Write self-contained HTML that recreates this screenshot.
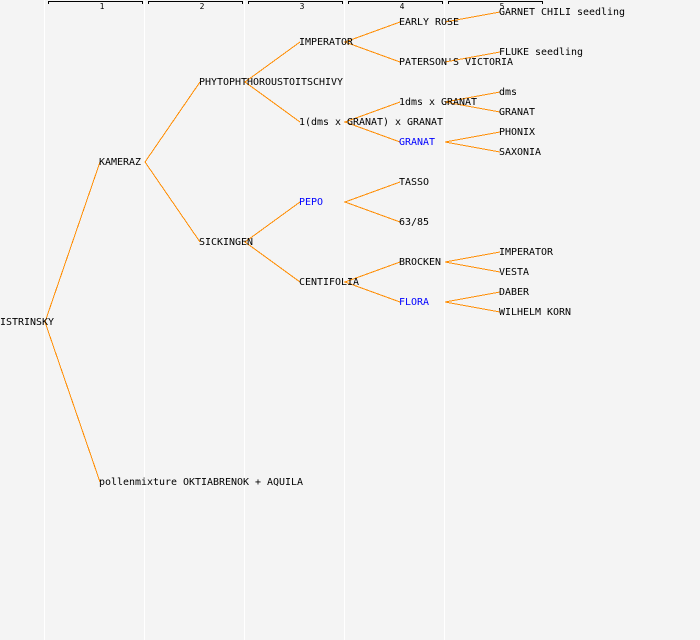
<!DOCTYPE html>
<html><head><meta charset="utf-8">
<style>
html,body{margin:0;padding:0;background:#f4f4f4}
svg{display:block}
text{font-family:"DejaVu Sans Mono","Liberation Mono",monospace;font-size:9.97px;fill:#000}
.b{fill:#0000ff}
.n{font-size:8px;text-anchor:middle}
</style></head><body>
<svg width="700" height="640" viewBox="0 0 700 640" xmlns="http://www.w3.org/2000/svg">
<rect width="700" height="640" fill="#f4f4f4"/>
<g fill="#fff" shape-rendering="crispEdges">
<rect x="44" y="0" width="1" height="640"/><rect x="144" y="0" width="1" height="640"/><rect x="244" y="0" width="1" height="640"/><rect x="344" y="0" width="1" height="640"/><rect x="444" y="0" width="1" height="640"/>
</g>
<g fill="none" stroke="#000" shape-rendering="crispEdges">
<path d="M48.5 4V1.5H142.5V4"/><path d="M148.5 4V1.5H242.5V4"/><path d="M248.5 4V1.5H342.5V4"/><path d="M348.5 4V1.5H442.5V4"/><path d="M448.5 4V1.5H542.5V4"/>
</g>
<text class="n" x="102" y="9">1</text><text class="n" x="202" y="9">2</text><text class="n" x="302" y="9">3</text><text class="n" x="402" y="9">4</text><text class="n" x="502" y="9">5</text>
<g stroke="#ff8c00" fill="none" shape-rendering="crispEdges">
<path d="M100 162L45 322L100 482"/>
<path d="M200 82L145 162L200 242"/>
<path d="M300 42L245 82L300 122"/>
<path d="M300 202L245 242L300 282"/>
<path d="M400 22L345 42L400 62"/>
<path d="M400 102L345 122L400 142"/>
<path d="M400 182L345 202L400 222"/>
<path d="M400 262L345 282L400 302"/>
<path d="M500 12L445 22"/>
<path d="M500 52L445 62"/>
<path d="M500 92L445 102L500 112"/>
<path d="M500 132L445 142L500 152"/>
<path d="M500 252L445 262L500 272"/>
<path d="M500 292L445 302L500 312"/>
</g>
<text x="0" y="325">ISTRINSKY</text>
<text x="99" y="165">KAMERAZ</text>
<text x="99" y="485">pollenmixture OKTIABRENOK + AQUILA</text>
<text x="199" y="85">PHYTOPHTHOROUSTOITSCHIVY</text>
<text x="199" y="245">SICKINGEN</text>
<text x="299" y="45">IMPERATOR</text>
<text x="299" y="125">1(dms x GRANAT) x GRANAT</text>
<text x="299" y="205" class="b">PEPO</text>
<text x="299" y="285">CENTIFOLIA</text>
<text x="399" y="25">EARLY ROSE</text>
<text x="399" y="65">PATERSON'S VICTORIA</text>
<text x="399" y="105">1dms x GRANAT</text>
<text x="399" y="145" class="b">GRANAT</text>
<text x="399" y="185">TASSO</text>
<text x="399" y="225">63/85</text>
<text x="399" y="265">BROCKEN</text>
<text x="399" y="305" class="b">FLORA</text>
<text x="499" y="15">GARNET CHILI seedling</text>
<text x="499" y="55">FLUKE seedling</text>
<text x="499" y="95">dms</text>
<text x="499" y="115">GRANAT</text>
<text x="499" y="135">PHONIX</text>
<text x="499" y="155">SAXONIA</text>
<text x="499" y="255">IMPERATOR</text>
<text x="499" y="275">VESTA</text>
<text x="499" y="295">DABER</text>
<text x="499" y="315">WILHELM KORN</text>
</svg>
</body></html>
